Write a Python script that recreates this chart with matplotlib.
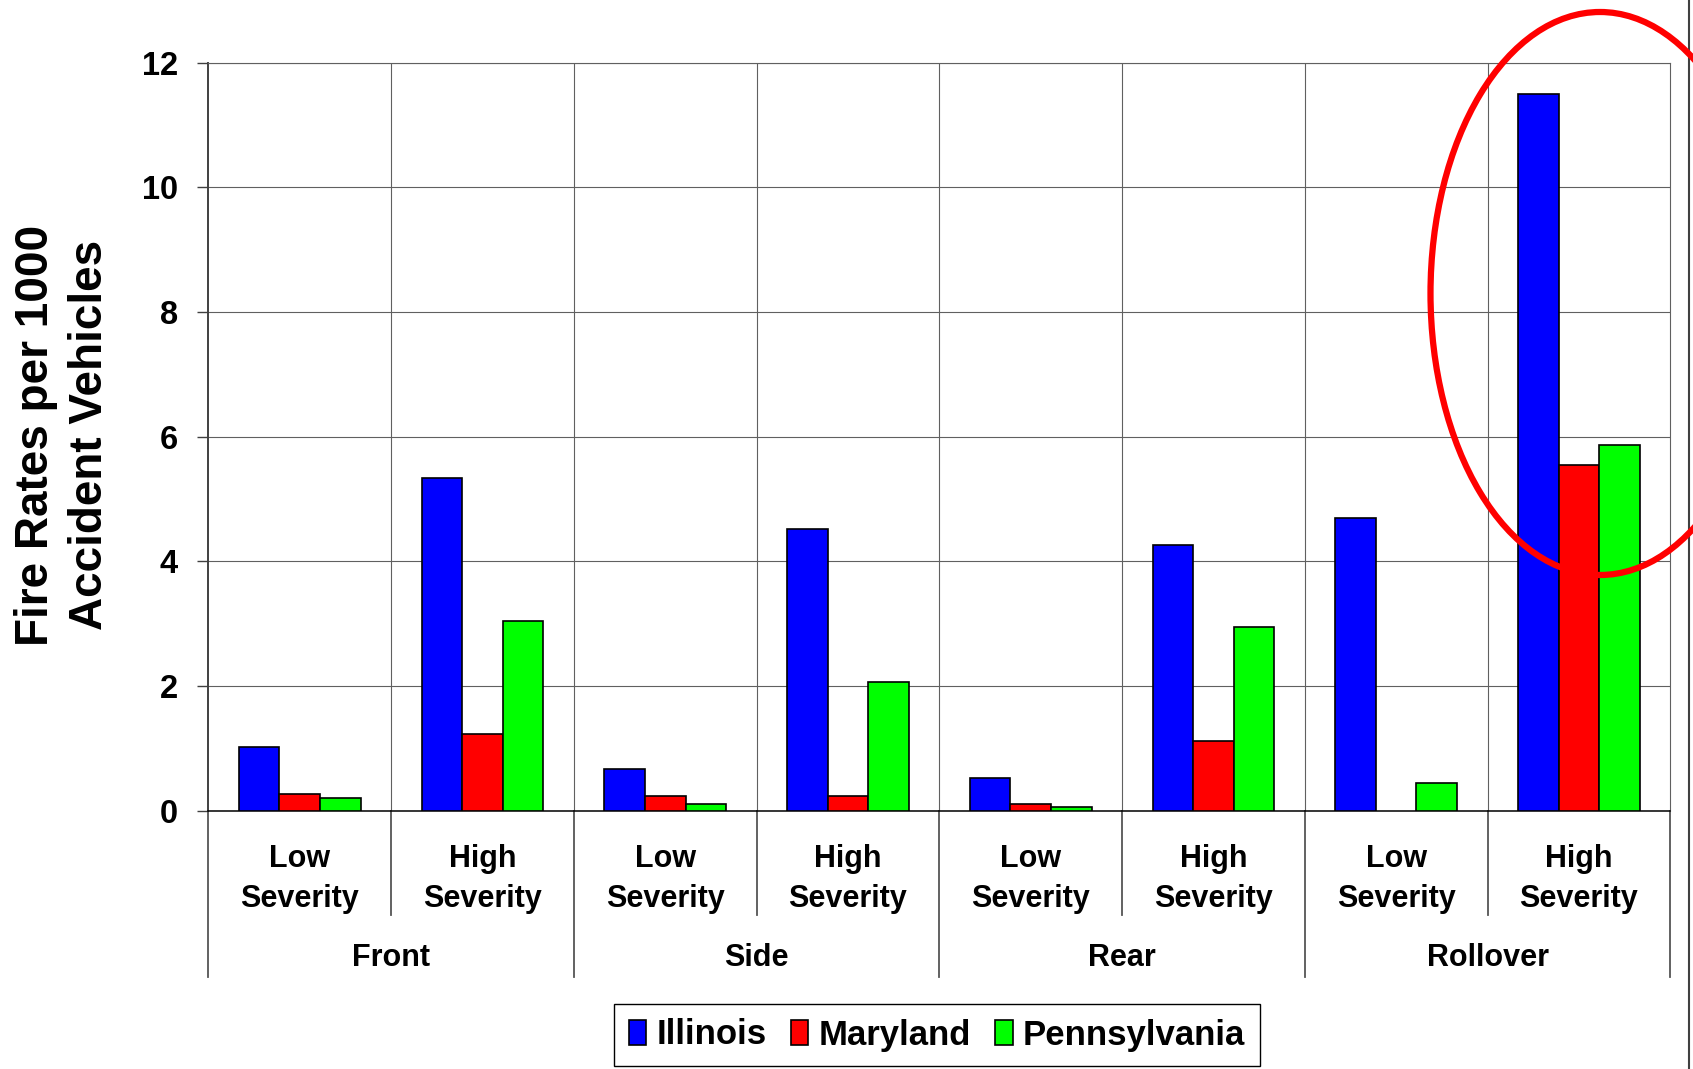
import matplotlib.pyplot as plt
import numpy as np
from matplotlib.patches import Ellipse, Patch
from matplotlib.lines import Line2D
from matplotlib.transforms import blended_transform_factory

plt.rcParams['font.family'] = ['Liberation Sans', 'DejaVu Sans']
plt.rcParams['font.weight'] = 'bold'

# Fire rates per 1000 accident vehicles, 4 crash types x 2 severities
crash_types = ['Front', 'Side', 'Rear', 'Rollover']
severities = ['Low', 'High']
states = ['Illinois', 'Maryland', 'Pennsylvania']
illinois = [1.02, 5.34, 0.67, 4.52, 0.52, 4.26, 4.70, 11.49]
maryland = [0.27, 1.23, 0.24, 0.24, 0.105, 1.12, np.nan, 5.54]
pennsylvania = [0.21, 3.05, 0.105, 2.07, 0.065, 2.95, 0.45, 5.86]
yticks = [0, 2, 4, 6, 8, 10, 12]

colors = ['#0000FF', '#FF0000', '#00FF00']
W, H = 1693, 1069

fig = plt.figure(figsize=(W / 100, H / 100), dpi=100)
ax = fig.add_axes([208.4 / W, 1 - 810.9 / H, (1670.3 - 208.4) / W, 748.3 / H])

x = np.arange(len(crash_types) * len(severities))
bw = 0.222
for i, vals in enumerate([illinois, maryland, pennsylvania]):
    ax.bar(x + (i - 1) * bw, vals, width=bw, color=colors[i],
           edgecolor='black', linewidth=1.2, zorder=3)

ax.set_xlim(-0.5, len(x) - 0.5)
ax.set_ylim(0, 12)
ax.set_yticks(yticks)
ax.set_yticklabels([str(t) for t in yticks], fontsize=23.5, fontweight='bold')
ax.tick_params(axis='y', length=8, width=1, color='#404040', pad=14)
ax.set_xticks([])

# gridlines
ax.set_axisbelow(True)
ax.yaxis.grid(True, color='#606060', linewidth=0.8)
for b in np.arange(0.5, len(x) - 0.5, 1):
    ax.axvline(b, color='#606060', linewidth=0.8, zorder=1)

for side in ['top', 'right']:
    ax.spines[side].set_color('#606060')
    ax.spines[side].set_linewidth(0.8)
ax.spines['left'].set_color('#404040')
ax.spines['left'].set_linewidth(1.4)
ax.spines['bottom'].set_color('black')
ax.spines['bottom'].set_linewidth(1.1)

# two-level category axis below the plot
tr = blended_transform_factory(ax.transData, ax.transAxes)
for b in np.arange(-0.5, len(x), 1):
    long_sep = int(round(b + 0.5)) % 2 == 0
    y_end = -0.222 if long_sep else -0.139
    ax.plot([b, b], [0, y_end], color='#555555', linewidth=1.3,
            transform=tr, clip_on=False)

for k in x:
    ax.text(k, -0.0754, severities[k % 2], transform=tr, ha='center',
            va='baseline', fontsize=22, fontweight='bold')
    ax.text(k, -0.128, 'Severity', transform=tr, ha='center',
            va='baseline', fontsize=22, fontweight='bold')
for g, name in enumerate(crash_types):
    ax.text(2 * g + 0.5, -0.2073, name, transform=tr, ha='center',
            va='baseline', fontsize=22, fontweight='bold')

fig.text(63 / W, 1 - 435 / H, 'Fire Rates per 1000\nAccident Vehicles',
         rotation=90, ha='center', va='center', multialignment='center',
         fontsize=33, fontweight='bold', linespacing=1.32)

handles = [Patch(facecolor=c, edgecolor='black', linewidth=1.2) for c in colors]
leg = fig.legend(handles, states, loc='center', ncol=3,
                 bbox_to_anchor=(937 / W, 1 - 1035 / H),
                 prop={'size': 25, 'weight': 'bold'},
                 handlelength=0.5, handleheight=0.7, handletextpad=0.3,
                 columnspacing=0.7, borderpad=0.42, borderaxespad=0,
                 fancybox=False, framealpha=1, edgecolor='black')
leg.get_frame().set_linewidth(1.0)

# highlight around the high-severity rollover bars
fig.patches.append(Ellipse((1600 / W, 1 - 293.5 / H), 339 / W, 563 / H,
                           transform=fig.transFigure, fill=False,
                           edgecolor='#FF0000', linewidth=4.5, zorder=5))
fig.add_artist(Line2D([1689 / W, 1689 / W], [0, 1], transform=fig.transFigure,
                      color='#404040', linewidth=1.5))

fig.savefig('out.png', dpi=100, facecolor='white')
